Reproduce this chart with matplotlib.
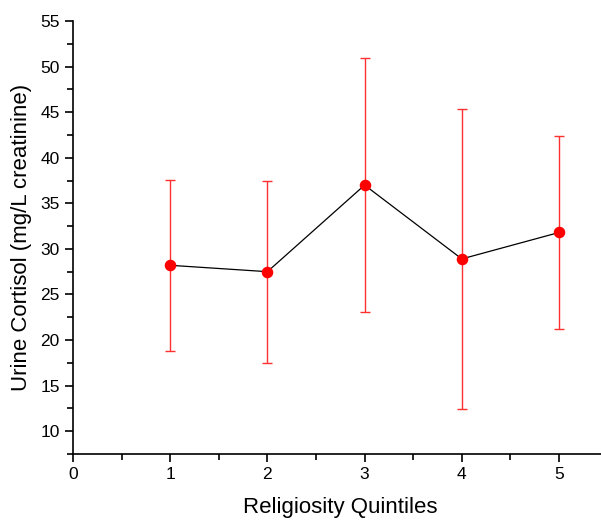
import matplotlib
matplotlib.use("Agg")
import matplotlib.pyplot as plt
from matplotlib.ticker import MultipleLocator

plt.rcParams['font.family'] = ['Liberation Sans', 'DejaVu Sans']

quintiles = [1, 2, 3, 4, 5]
cortisol = [28.2, 27.5, 37.0, 28.9, 31.8]
err = [9.4, 10.0, 13.9, 16.5, 10.6]

fig = plt.figure(figsize=(6.01, 5.21), dpi=100)
ax = fig.add_axes([0.1215, 0.1286, 0.8895, 0.8311])

ax.plot(quintiles, cortisol, color='black', lw=0.9, zorder=2)
ax.errorbar(quintiles, cortisol, yerr=err, fmt='none', ecolor='#ff3030',
            elinewidth=1.0, capsize=3.4, capthick=1.0, zorder=1)
ax.plot(quintiles, cortisol, 'o', color='red', markersize=7.3, zorder=3)

ax.set_xlim(0, 5.5)
ax.set_ylim(7.5, 55)
ax.xaxis.set_major_locator(MultipleLocator(1))
ax.xaxis.set_minor_locator(MultipleLocator(0.5))
ax.yaxis.set_major_locator(MultipleLocator(5))
ax.yaxis.set_minor_locator(MultipleLocator(2.5))
ax.set_yticks([10, 15, 20, 25, 30, 35, 40, 45, 50, 55])

for s in ['top', 'right']:
    ax.spines[s].set_visible(False)
for s in ['left', 'bottom']:
    ax.spines[s].set_linewidth(1.2)

ax.tick_params(which='major', direction='out', length=6, width=1.2, labelsize=12.5)
ax.tick_params(which='minor', direction='out', length=4, width=1.2)

ax.set_xlabel('Religiosity Quintiles', fontsize=16, labelpad=11)
ax.set_ylabel('Urine Cortisol (mg/L creatinine)', fontsize=16, labelpad=6)

fig.savefig('out.png', dpi=100)
